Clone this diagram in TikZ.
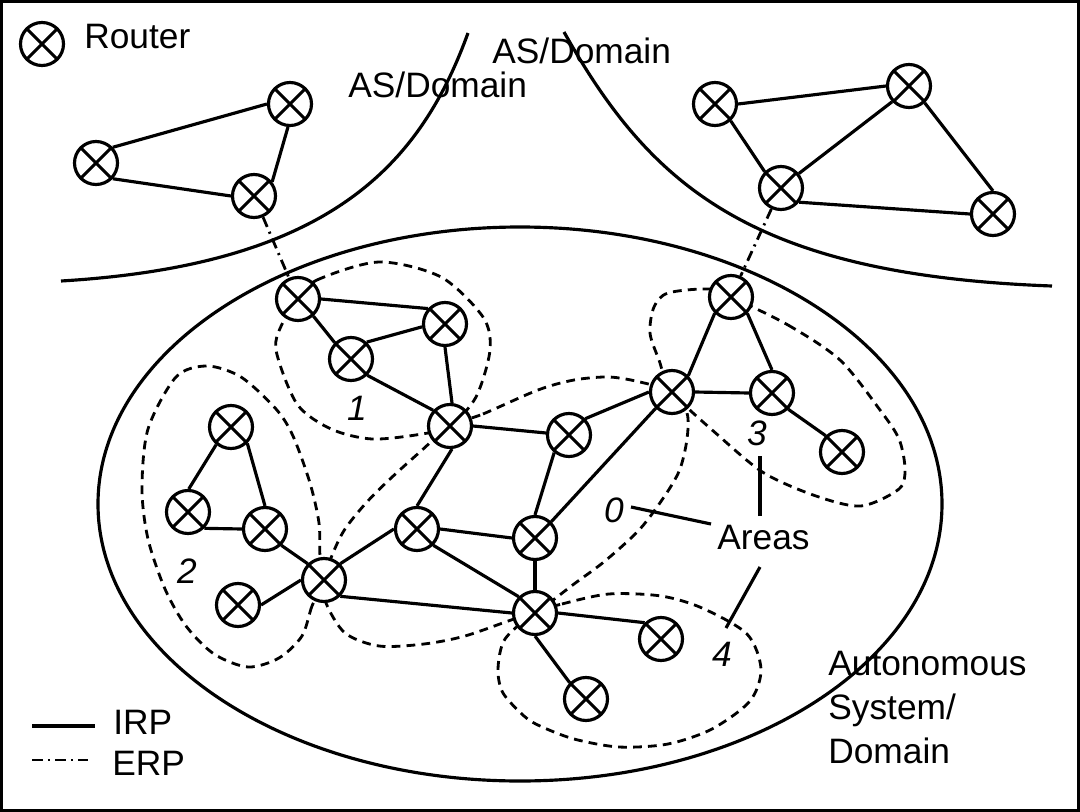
\documentclass[tikz,border=0pt]{standalone}
\usepackage{fontspec}
\setmainfont{Liberation Sans}
\tikzset{
    router/.style = {circle, draw, fill=white, line width=1.8pt, minimum size=43*0.02cm, inner sep=0pt,
        path picture={\draw [line width=1.8pt] (path picture bounding box.north west) -- (path picture bounding box.south east)
            (path picture bounding box.north east) -- (path picture bounding box.south west);}},
    label/.style = {anchor=base west, inner sep=0pt, font=\fontsize{20.1}{24}\selectfont},
    areanum/.style = {inner sep=0pt, font=\fontsize{20.1}{24}\selectfont\itshape},
    irp/.style = {line width=1.8pt},
    erp/.style = {line width=1.6pt, dash pattern=on 6pt off 3pt on 1.2pt off 3pt},
    area/.style = {line width=1.6pt, dash pattern=on 5pt off 3.5pt}
}
\begin{document}
\begin{tikzpicture}[x=0.02cm, y=-0.02cm]
        \useasboundingbox (0,0) rectangle (1080,812);
        \draw [line width=1.3pt] (1.5,1.5) rectangle (1078.5,810.5);
        % AS boundaries
        \draw [irp] (61,281) .. controls (330,265) and (420,165) .. (468,33);
        \draw [irp] (564,32) .. controls (650,185) and (750,275) .. (1052,286);
        \draw [irp] (520,504) ellipse [x radius=422, y radius=277];
        % areas
        \draw [area] plot [smooth cycle] coordinates {(298,299) (317,280) (379,262) (441,277) (483,317) (490,350) (476,397) (450,426) (422,434) (372,439) (331,429) (297,404) (276,350) (283,322)};
        \draw [area] plot [smooth cycle] coordinates {(324,580) (312,606) (302,636) (279,658) (248,667) (214,654) (186,626) (165,589) (148,539) (142,489) (148,429) (176,377) (207,366) (241,377) (276,409) (293,436) (310,483) (319,523) (320,556)};
        \draw [area] plot [smooth cycle] coordinates {(450,426) (483,414) (538,390) (574,380) (609,377) (640,382) (672,392) (687,413) (687,439) (680,469) (666,494) (640,529) (605,561) (574,584) (535,613) (514,619) (465,636) (424,644) (379,646) (345,633) (326,603) (324,580) (333,553) (345,529) (366,503) (390,479) (421,451)};
        \draw [area] plot [smooth cycle] coordinates {(731,297) (788,325) (840,360) (880,410) (899,439) (905,469) (899,489) (861,506) (816,496) (764,473) (719,436) (672,392) (659,360) (650,333) (654,307) (668,293) (709,289)};
        \draw [area] plot [smooth cycle] coordinates {(535,613) (562,604) (609,594) (661,596) (702,608) (747,634) (761,669) (750,701) (712,729) (668,744) (619,747) (574,739) (540,726) (524,716) (503,693) (498,669) (505,639)};
        % routers
        \node [router] (key) at (42,44) {};
        \foreach \name/\px/\py in {
            tl/96/163, tr/290/104, tb/254/196,
            ua/715/104, ub/909/86, uc/781/188, ud/993/214,
            a/298/299, b/445/324, c/351/359, d/450/426,
            e/569/435, f/672/392, g/731/297, h/772/393, i/842/452,
            j/231/427, k/188/512, l/265/529, m/324/580, n/238/605,
            o/417/529, p/535/538, q/535/613, r/661/639, s/586/699}
            \node [router] (\name) at (\px,\py) {};
        % IRP links
        \foreach \from/\fa/\to/\ta in {
            tl/43/tr/180, tl/317/tb/180, tr/265/tb/38,
            ua/0/ub/180, ua/313/uc/135, ub/223/uc/39, ub/313/ud/90, uc/322/ud/180,
            a/0/b/138, a/312/c/135, c/47/b/187, b/270/d/85, c/315/d/137,
            d/0/e/175, d/275/o/90, e/230/p/90, p/45/f/225, e/45/f/180,
            f/45/g/225, g/315/h/90, f/0/h/180, h/315/i/135,
            j/230/k/88, j/315/l/90, k/315/l/180, l/315/m/135, n/0/m/180,
            m/45/o/180, m/315/q/180, o/0/p/180, o/315/q/135, p/270/q/90,
            q/0/r/135, q/270/s/135}
            \draw [irp] (\from.\fa) -- (\to.\ta);
        % ERP links
        \draw [erp] (tb) -- (a);
        \draw [erp] (uc) -- (g);
        % area labels
        \node [areanum] (one) at (357,408) {1};
        \node [areanum] (two) at (187,571) {2};
        \node [areanum] (three) at (757,433) {3};
        \node [areanum] (zero) at (614,510) {0};
        \node [areanum] (four) at (722,654) {4};
        \node [label] (areas) at (717,549) {Areas};
        \coordinate (zeroend) at (631,507);
        \coordinate (zerostart) at (711,524);
        \coordinate (threeend) at (760,456);
        \coordinate (threestart) at (760,516);
        \coordinate (fourstart) at (760,567);
        \coordinate (fourend) at (726,628);
        \draw [irp] (zerostart) -- (zeroend);
        \draw [irp] (threestart) -- (threeend);
        \draw [irp] (fourstart) -- (fourend);
        % texts
        \node [label] (routertext) at (84,48) {Router};
        \node [label] (dom1) at (348,97) {AS/Domain};
        \node [label] (dom2) at (492,63) {AS/Domain};
        \node [label] (auto1) at (828,675) {Autonomous};
        \node [label] (auto2) at (828,719) {System/};
        \node [label] (auto3) at (828,763) {Domain};
        % legend
        \coordinate (irpa) at (32,726);
        \coordinate (irpb) at (95,726);
        \coordinate (erpa) at (32,760);
        \coordinate (erpb) at (88,760);
        \draw [irp] (irpa) -- (irpb);
        \draw [erp] (erpa) -- (erpb);
        \node [label] (irptext) at (113,734) {IRP};
        \node [label] (erptext) at (112,775) {ERP};
\end{tikzpicture}
\end{document}
